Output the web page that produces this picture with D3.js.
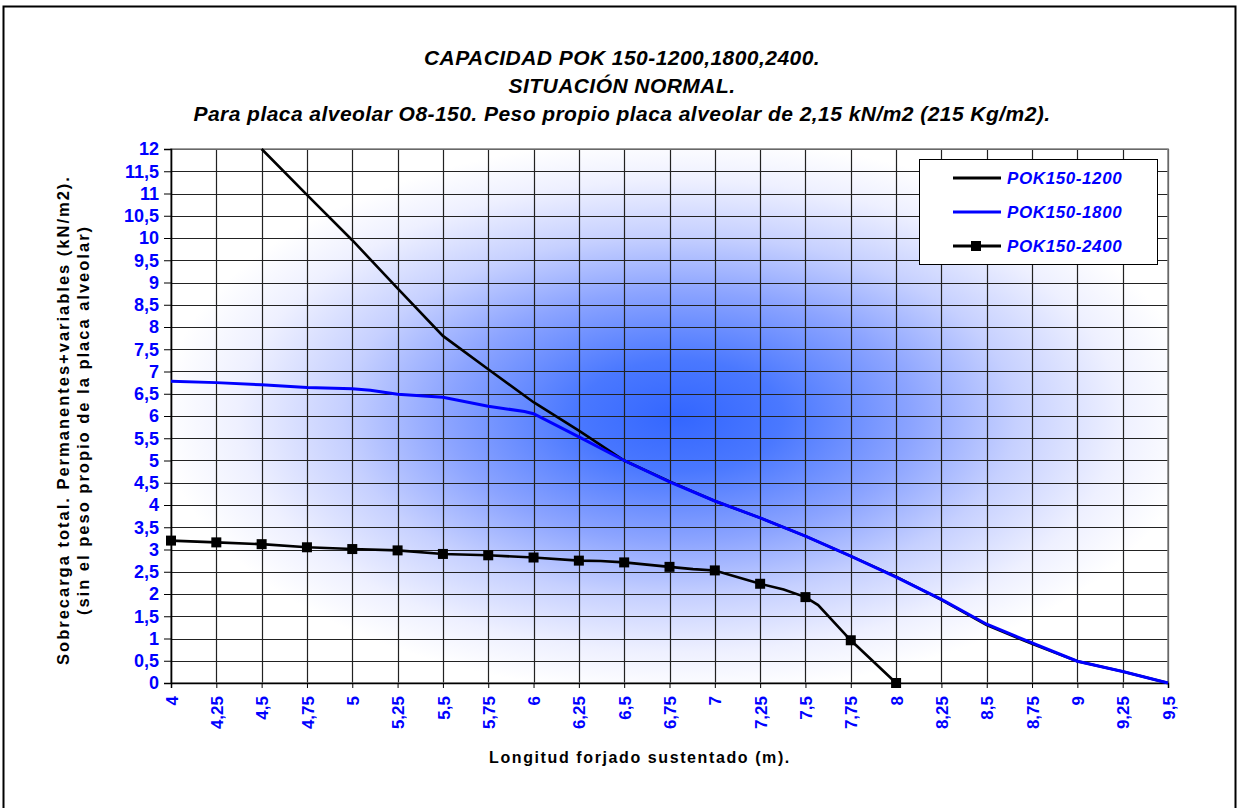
<!DOCTYPE html>
<html>
<head>
<meta charset="utf-8">
<script src="https://cdn.jsdelivr.net/npm/d3@7"></script>
<style>
  body { margin: 0; background: #fff; overflow: hidden; }
  svg { display: block; }
  svg text { font-family: "Liberation Sans", Arial, sans-serif; }
</style>
</head>
<body>
<div id="chart"></div>
<script>
// Data
const xTicks = [4, 4.25, 4.5, 4.75, 5, 5.25, 5.5, 5.75, 6, 6.25, 6.5, 6.75, 7, 7.25, 7.5, 7.75, 8, 8.25, 8.5, 8.75, 9, 9.25, 9.5];
const yTicks = [0, 0.5, 1, 1.5, 2, 2.5, 3, 3.5, 4, 4.5, 5, 5.5, 6, 6.5, 7, 7.5, 8, 8.5, 9, 9.5, 10, 10.5, 11, 11.5, 12];

const pok1200X = [4.5, 4.75, 5, 5.25, 5.5, 5.75, 6, 6.25, 6.5, 6.75, 7, 7.25, 7.5, 7.75, 8, 8.25, 8.5, 8.75, 9, 9.25, 9.5];
const pok1200Y = [12, 10.97, 9.95, 8.87, 7.8, 7.05, 6.31, 5.67, 5.0, 4.53, 4.09, 3.71, 3.3, 2.85, 2.39, 1.87, 1.3, 0.88, 0.49, 0.26, 0];

const pok1800X = [4, 4.25, 4.5, 4.75, 5, 5.1, 5.25, 5.5, 5.75, 5.95, 6, 6.25, 6.5, 6.75, 7, 7.25, 7.5, 7.75, 8, 8.25, 8.5, 8.75, 9, 9.25, 9.5];
const pok1800Y = [6.78, 6.75, 6.7, 6.64, 6.61, 6.58, 6.49, 6.42, 6.22, 6.1, 6.05, 5.53, 5.0, 4.52, 4.09, 3.71, 3.3, 2.85, 2.38, 1.88, 1.32, 0.9, 0.49, 0.26, 0];

const pok2400X = [4, 4.25, 4.5, 4.75, 5, 5.25, 5.5, 5.75, 6, 6.25, 6.37, 6.5, 6.75, 6.88, 7, 7.25, 7.38, 7.5, 7.57, 7.75, 8];
const pok2400Y = [3.2, 3.16, 3.12, 3.05, 3.01, 2.98, 2.9, 2.87, 2.82, 2.75, 2.74, 2.71, 2.61, 2.56, 2.53, 2.23, 2.1, 1.93, 1.75, 0.96, 0];

const seriesNames = ["POK150-1200", "POK150-1800", "POK150-2400"];
const titleLines = [
  "CAPACIDAD POK 150-1200,1800,2400.",
  "SITUACIÓN NORMAL.",
  "Para placa alveolar O8-150. Peso propio placa alveolar de 2,15 kN/m2 (215 Kg/m2)."
];

const width = 1240, height = 808;
const margin = { top: 149, right: 72, bottom: 125, left: 171 };
const innerWidth = width - margin.left - margin.right;
const innerHeight = height - margin.top - margin.bottom;
const fmt = v => String(v).replace(".", ",");

const svg = d3.select("#chart")
  .append("svg")
  .attr("width", width)
  .attr("height", height);

// Outer frame (bottom edge falls outside the picture, as in the reference)
svg.append("path")
  .attr("d", "M3.5,808 V6.5 H1235.5 V808")
  .attr("fill", "#fff")
  .attr("stroke", "#000")
  .attr("stroke-width", 2);

// Gradient for plot background
const defs = svg.append("defs");
const grad = defs.append("radialGradient")
  .attr("id", "bgGrad")
  .attr("cx", "51%").attr("cy", "50%").attr("r", "52%");
[[0, "#3366ff"], [0.2, "#4a78ff"], [0.45, "#8ca4ff"], [0.65, "#c6d0ff"], [0.85, "#eef0ff"], [1, "#ffffff"]]
  .forEach(([o, c]) => grad.append("stop").attr("offset", o).attr("stop-color", c));

// Titles
titleLines.forEach((t, i) => {
  svg.append("text")
    .attr("x", 622)
    .attr("y", 65 + i * 28)
    .attr("text-anchor", "middle")
    .style("font-size", "21px")
    .style("font-weight", "bold")
    .style("font-style", "italic")
    .style("letter-spacing", "0.45px")
    .style("fill", "#000")
    .text(t);
});

const g = svg.append("g")
  .attr("transform", `translate(${margin.left}, ${margin.top})`);

const x = d3.scaleLinear().domain([4, 9.5]).range([0, innerWidth]);
const y = d3.scaleLinear().domain([0, 12]).range([innerHeight, 0]);

g.append("rect")
  .attr("width", innerWidth)
  .attr("height", innerHeight)
  .attr("fill", "url(#bgGrad)");

// Grid
g.append("g")
  .selectAll("line")
  .data(yTicks)
  .enter().append("line")
  .attr("x1", 0).attr("x2", innerWidth)
  .attr("y1", d => Math.round(y(d)) + 0.5)
  .attr("y2", d => Math.round(y(d)) + 0.5)
  .attr("stroke", "#222")
  .attr("stroke-width", 1.2);

g.append("g")
  .selectAll("line")
  .data(xTicks)
  .enter().append("line")
  .attr("y1", 0).attr("y2", innerHeight)
  .attr("x1", d => Math.round(x(d)) + 0.5)
  .attr("x2", d => Math.round(x(d)) + 0.5)
  .attr("stroke", "#222")
  .attr("stroke-width", 1.2);

g.append("rect")
  .attr("width", innerWidth)
  .attr("height", innerHeight)
  .attr("fill", "none")
  .attr("stroke", "#808080")
  .attr("stroke-width", 1.5);

// Axes
const yAxis = g.append("g")
  .call(d3.axisLeft(y).tickValues(yTicks).tickFormat(fmt).tickSize(7).tickPadding(5));
yAxis.select(".domain").attr("stroke", "#000").attr("stroke-width", 1.5);
yAxis.selectAll(".tick line").attr("stroke", "#000");
yAxis.selectAll("text")
  .style("fill", "#0000ff")
  .style("font-size", "18px")
  .style("font-weight", "bold")
  .style("font-family", "Liberation Sans, Arial, sans-serif");

const xAxis = g.append("g")
  .attr("transform", `translate(0, ${innerHeight})`)
  .call(d3.axisBottom(x).tickValues(xTicks).tickFormat(fmt).tickSize(5));
xAxis.select(".domain").attr("stroke", "#000").attr("stroke-width", 1.5);
xAxis.selectAll(".tick line").attr("stroke", "#000");
xAxis.selectAll("text")
  .attr("transform", "rotate(-90)")
  .attr("x", -13)
  .attr("y", 0)
  .attr("dy", "0.36em")
  .attr("text-anchor", "end")
  .style("fill", "#0000ff")
  .style("font-size", "17px")
  .style("font-weight", "bold")
  .style("font-family", "Liberation Sans, Arial, sans-serif");

// Lines
const line = d3.line().x(d => x(d[0])).y(d => y(d[1]));
const s1200 = pok1200X.map((v, i) => [v, pok1200Y[i]]);
const s1800 = pok1800X.map((v, i) => [v, pok1800Y[i]]);
const s2400 = pok2400X.map((v, i) => [v, pok2400Y[i]]);

g.append("path").datum(s1200)
  .attr("d", line).attr("fill", "none")
  .attr("stroke", "#000").attr("stroke-width", 2.6);

g.append("path").datum(s1800)
  .attr("d", line).attr("fill", "none")
  .attr("stroke", "#0000ff").attr("stroke-width", 3);

g.append("path").datum(s2400)
  .attr("d", line).attr("fill", "none")
  .attr("stroke", "#000").attr("stroke-width", 2.6);

g.selectAll(".marker")
  .data(s2400.filter(d => Math.abs(d[0] * 4 - Math.round(d[0] * 4)) < 1e-6))
  .enter().append("rect")
  .attr("class", "marker")
  .attr("x", d => x(d[0]) - 5)
  .attr("y", d => y(d[1]) - 5)
  .attr("width", 10).attr("height", 10)
  .attr("fill", "#000");

// Legend
const legend = svg.append("g").attr("transform", "translate(919, 159)");
legend.append("rect")
  .attr("x", 0.5).attr("y", 0.5)
  .attr("width", 238).attr("height", 105)
  .attr("fill", "#fff").attr("stroke", "#000").attr("stroke-width", 1);
const legendColors = ["#000", "#0000ff", "#000"];
seriesNames.forEach((name, i) => {
  const ly = 19 + i * 34;
  legend.append("line")
    .attr("x1", 34).attr("x2", 82)
    .attr("y1", ly).attr("y2", ly)
    .attr("stroke", legendColors[i]).attr("stroke-width", 3);
  if (i === 2) {
    legend.append("rect")
      .attr("x", 52).attr("y", ly - 5)
      .attr("width", 10).attr("height", 10)
      .attr("fill", "#000");
  }
  legend.append("text")
    .attr("x", 88).attr("y", ly + 6)
    .style("font-size", "17px")
    .style("font-weight", "bold")
    .style("font-style", "italic")
    .style("letter-spacing", "0.6px")
    .style("fill", "#0000ff")
    .text(name);
});

// Axis titles
svg.append("text")
  .attr("x", 640).attr("y", 763)
  .attr("text-anchor", "middle")
  .style("font-size", "16px")
  .style("font-weight", "bold")
  .style("letter-spacing", "1.6px")
  .text("Longitud forjado sustentado (m).");

const yTitle = svg.append("text")
  .attr("transform", "translate(69, 420) rotate(-90)")
  .attr("text-anchor", "middle")
  .style("font-size", "16.5px")
  .style("font-weight", "bold")
  .style("letter-spacing", "2px");
yTitle.append("tspan").attr("x", 0).attr("y", 0)
  .text("Sobrecarga total. Permanentes+variables (kN/m2).");
yTitle.append("tspan").attr("x", 0).attr("y", 20)
  .text("(sin el peso propio de la placa alveolar)");
</script>
</body>
</html>
